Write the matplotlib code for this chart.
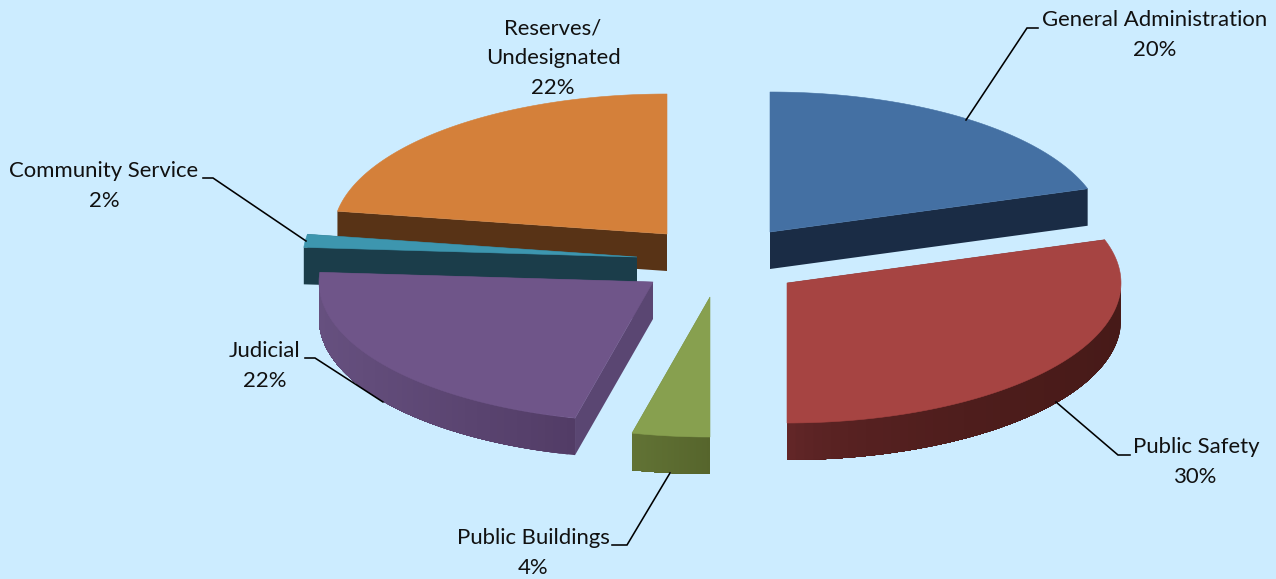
import numpy as np
import matplotlib
matplotlib.use("Agg")
import matplotlib.pyplot as plt
from matplotlib.patches import Polygon
from matplotlib.collections import PolyCollection
from matplotlib.colors import to_rgb

plt.rcParams['font.family'] = ['Lato', 'DejaVu Sans']

# Data
categories = ["General Administration", "Public Safety", "Public Buildings",
              "Judicial", "Community Service", "Reserves/\nUndesignated"]
values = [20.0, 30.0, 3.75, 22.35, 1.5, 22.4]

# Exploded slice apex positions (px) and shape
apex_x = [770, 787, 710, 653, 637, 667]
apex_y = [232, 283, 297, 282, 257, 234]
RX, RY, DEPTH = 334, 140, 37

top_colors = ["#4470A3", "#A64442", "#87A04F", "#6F5589", "#3D96AF", "#D4803A"]
side_start = ["#1A2C45", "#66282A", "#627335", "#66507F", "#1B3D4A", "#583316"]
side_end = ["#1A2C45", "#471A18", "#56652C", "#523C66", "#1B3D4A", "#583316"]
side_gamma = [1, 0.45, 1, 1, 1, 1]
radial_colors = ["#1A2C45", "#471A18", "#56652C", "#5A4672", "#1B3D4A", "#583316"]
draw_order = [5, 0, 4, 3, 1, 2]

label_x = [1155, 1196, 533, 265, 104, 553]
label_y = [35, 462, 553, 366, 186, 58]
leader_x = [[1038, 1027, 966], [1056, 1118, 1130], [670, 627, 612],
            [383, 315, 305], [306, 213, 203]]
leader_y = [[28, 28, 120], [402, 455, 455], [473, 545, 545],
            [402, 358, 358], [241, 178, 178]]

fig = plt.figure(figsize=(12.76, 5.79), dpi=100, facecolor="#CCECFF")
ax = fig.add_axes([0, 0, 1, 1])
ax.set_xlim(0, 1276)
ax.set_ylim(579, 0)
ax.axis("off")

edges = np.concatenate([[0], np.cumsum(values)]) / sum(values) * 2 * np.pi


def rim(cx, cy, t):
    return cx + RX * np.sin(t), cy - RY * np.cos(t)


for z, i in enumerate(draw_order):
    cx, cy = apex_x[i], apex_y[i]
    t0, t1 = edges[i], edges[i + 1]
    # radial faces
    for t in (t0, t1):
        ex, ey = rim(cx, cy, t)
        ax.add_patch(Polygon([(cx, cy), (ex, ey), (ex, ey + DEPTH), (cx, cy + DEPTH)],
                             closed=True, fc=radial_colors[i], ec="none",
                             zorder=z * 10))
    # outer wall: painted in overlapping steps so no seams show
    a, b = max(t0, np.pi / 2), min(t1, 3 * np.pi / 2)
    if b > a:
        ts = np.linspace(a, b, 60)
        xs, ys = rim(cx, cy, ts)
        polys, cols = [], []
        c0, c1 = np.array(to_rgb(side_start[i])), np.array(to_rgb(side_end[i]))
        xl, xr = xs.min(), xs.max()
        for k in range(len(ts) - 1):
            top = list(zip(xs[k:], ys[k:]))
            bot = list(zip(xs[k:], ys[k:] + DEPTH))[::-1]
            polys.append(top + bot)
            mx = (xs[k] + xs[k + 1]) / 2
            f = (mx - xl) / (xr - xl)
            cols.append(c0 + (c1 - c0) * f ** side_gamma[i])
        ax.add_collection(PolyCollection(polys, facecolors=cols, edgecolors="none",
                                         zorder=z * 10 + 1))
    # top
    ts = np.linspace(t0, t1, 120)
    xs, ys = rim(cx, cy, ts)
    pts = [(cx, cy)] + list(zip(xs, ys))
    ax.add_patch(Polygon(pts, closed=True, fc=top_colors[i], ec=top_colors[i],
                         lw=0.4, zorder=z * 10 + 2))

# Leader lines
for lx, ly in zip(leader_x, leader_y):
    ax.plot(lx, ly, color="black", lw=1.15, zorder=100, solid_joinstyle="miter")

# Labels
for name, v, x, y in zip(categories, values, label_x, label_y):
    ax.text(x, y, f"{name}\n{v:.0f}%", ha="center", va="center", fontsize=15.9,
            color="#111111", linespacing=1.6, zorder=101)

fig.savefig("out.png", dpi=100, facecolor=fig.get_facecolor())
